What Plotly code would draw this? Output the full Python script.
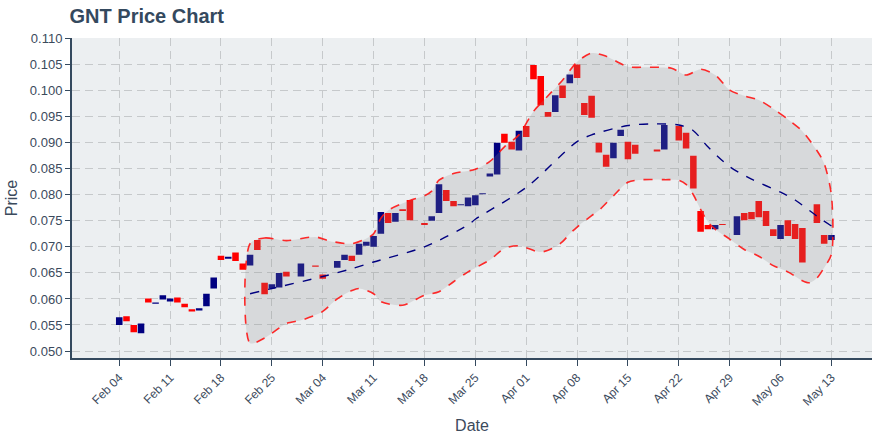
import plotly.graph_objects as go

candle_dates = [
    '2019-02-04','2019-02-05','2019-02-06','2019-02-07','2019-02-08','2019-02-09','2019-02-10','2019-02-11',
    '2019-02-12','2019-02-13','2019-02-14','2019-02-15','2019-02-16','2019-02-17','2019-02-18','2019-02-19',
    '2019-02-20','2019-02-21','2019-02-22','2019-02-23','2019-02-24','2019-02-25','2019-02-26','2019-02-27',
    '2019-03-01','2019-03-03','2019-03-04','2019-03-06','2019-03-07','2019-03-08','2019-03-09','2019-03-10',
    '2019-03-11','2019-03-12','2019-03-13','2019-03-14','2019-03-15','2019-03-16','2019-03-18','2019-03-19',
    '2019-03-20','2019-03-21','2019-03-22','2019-03-23','2019-03-24','2019-03-25','2019-03-26','2019-03-27',
    '2019-03-28','2019-03-29','2019-03-30','2019-03-31',
    '2019-04-01','2019-04-02','2019-04-03','2019-04-04','2019-04-05','2019-04-06','2019-04-07','2019-04-08',
    '2019-04-09','2019-04-10','2019-04-11','2019-04-12','2019-04-13','2019-04-14','2019-04-15','2019-04-16',
    '2019-04-19','2019-04-20','2019-04-22','2019-04-23','2019-04-24','2019-04-25','2019-04-26','2019-04-27',
    '2019-04-28','2019-04-30',
    '2019-05-01','2019-05-02','2019-05-03','2019-05-04','2019-05-05','2019-05-06','2019-05-07','2019-05-08',
    '2019-05-09','2019-05-11','2019-05-12','2019-05-13']

opens = [
    0.0550,0.0567,0.0550,0.0534,0.0601,0.0591,0.0599,0.0595,0.0603,0.0591,0.0580,0.0578,0.0586,0.0620,0.0683,0.0677,
    0.0689,0.0668,0.0664,0.0713,0.0631,0.0620,0.0622,0.0652,
    0.0643,0.0664,0.0647,0.0660,0.0675,0.0683,0.0685,0.0702,0.0700,0.0725,0.0765,0.0748,0.0772,0.0790,0.0746,0.0750,
    0.0765,0.0809,0.0788,0.0780,0.0778,0.0780,0.0801,0.0835,0.0839,0.0917,0.0902,0.0885,
    0.0932,0.1049,0.1028,0.0959,0.0959,0.1010,0.1014,0.1050,0.0976,0.0990,0.0900,0.0877,0.0870,0.0913,0.0902,0.0896,
    0.0887,0.0887,0.0932,0.0919,0.0875,0.0769,0.0742,0.0734,0.0744,0.0723,
    0.0765,0.0767,0.0788,0.0769,0.0734,0.0715,0.0751,0.0744,0.0736,0.0782,0.0723,0.0713]

closes = [
    0.0565,0.0557,0.0536,0.0553,0.0593,0.0593,0.0607,0.0601,0.0593,0.0584,0.0576,0.0582,0.0610,0.0641,0.0675,0.0681,
    0.0673,0.0656,0.0685,0.0694,0.0609,0.0628,0.0650,0.0643,
    0.0668,0.0662,0.0639,0.0673,0.0685,0.0673,0.0706,0.0710,0.0721,0.0767,0.0746,0.0765,0.0769,0.0751,0.0742,0.0759,
    0.0820,0.0788,0.0778,0.0782,0.0795,0.0799,0.0803,0.0841,0.0900,0.0900,0.0887,0.0923,
    0.0911,0.1022,0.0972,0.0950,0.0991,0.0986,0.1031,0.1024,0.0953,0.0948,0.0881,0.0854,0.0900,0.0925,0.0868,0.0879,
    0.0883,0.0934,0.0904,0.0889,0.0812,0.0729,0.0734,0.0742,0.0742,0.0759,
    0.0751,0.0753,0.0757,0.0740,0.0721,0.0742,0.0721,0.0715,0.0670,0.0746,0.0706,0.0723]

upper_dates = [
    '2019-02-22','2019-02-24','2019-02-27','2019-03-03','2019-03-05','2019-03-08','2019-03-10','2019-03-11',
    '2019-03-12','2019-03-13','2019-03-16','2019-03-18','2019-03-19','2019-03-20','2019-03-22','2019-03-25',
    '2019-03-27','2019-03-29','2019-03-31','2019-04-02','2019-04-04','2019-04-06','2019-04-08','2019-04-10',
    '2019-04-12','2019-04-15','2019-04-18','2019-04-21','2019-04-23','2019-04-25','2019-04-27','2019-04-29',
    '2019-05-01','2019-05-03','2019-05-05','2019-05-07','2019-05-09','2019-05-11','2019-05-12','2019-05-13']
upper_vals = [
    0.0706,0.0717,0.0712,0.0719,0.0711,0.0706,0.0716,0.0725,0.0755,0.0770,0.0789,0.0798,0.0807,0.0828,0.0841,0.0849,
    0.0864,0.0892,0.0915,0.0960,0.0990,0.1020,0.1055,0.1072,0.1066,0.1046,0.1045,0.1043,0.1030,0.1041,0.1030,0.1001,
    0.0990,0.0982,0.0965,0.0945,0.0922,0.0885,0.0860,0.0799]

lower_dates = [
    '2019-02-22','2019-02-24','2019-02-25','2019-02-27','2019-03-01','2019-03-03','2019-03-04','2019-03-06',
    '2019-03-08','2019-03-09','2019-03-11','2019-03-12','2019-03-15','2019-03-18','2019-03-20','2019-03-22',
    '2019-03-24','2019-03-27','2019-03-29','2019-03-31','2019-04-03','2019-04-05','2019-04-06','2019-04-07',
    '2019-04-08','2019-04-10','2019-04-11','2019-04-13','2019-04-15','2019-04-17','2019-04-20','2019-04-22',
    '2019-04-23','2019-04-24','2019-04-25','2019-04-26','2019-04-27','2019-04-29','2019-05-01','2019-05-03',
    '2019-05-05','2019-05-07','2019-05-09','2019-05-10','2019-05-11','2019-05-12','2019-05-13']
lower_vals = [
    0.0515,0.0525,0.0534,0.0553,0.0559,0.0569,0.0576,0.0600,0.0616,0.0620,0.0610,0.0595,0.0588,0.0607,0.0614,0.0633,
    0.0652,0.0675,0.0697,0.0702,0.0690,0.0700,0.0710,0.0725,0.0738,0.0760,0.0770,0.0798,0.0824,0.0829,0.0829,0.0828,
    0.0820,0.0800,0.0772,0.0748,0.0734,0.0715,0.0695,0.0682,0.0664,0.0652,0.0635,0.0631,0.0640,0.0660,0.0686]

mid_dates = [
    '2019-02-22','2019-02-25','2019-03-04','2019-03-08','2019-03-11','2019-03-18','2019-03-24','2019-03-25',
    '2019-04-01','2019-04-08','2019-04-10','2019-04-15','2019-04-18','2019-04-22','2019-04-24','2019-04-26',
    '2019-04-29','2019-05-02','2019-05-06','2019-05-08','2019-05-11','2019-05-13']
mid_vals = [
    0.0610,0.0620,0.0643,0.0658,0.0671,0.0700,0.0742,0.0753,0.0814,0.0902,0.0915,0.0933,0.0936,0.0934,0.0923,0.0892,
    0.0854,0.0830,0.0805,0.0790,0.0759,0.0740]

y_ticks = [0.050, 0.055, 0.060, 0.065, 0.070, 0.075, 0.080, 0.085, 0.090, 0.095, 0.100, 0.105, 0.110]

highs = [max(o, c) for o, c in zip(opens, closes)]
lows = [min(o, c) for o, c in zip(opens, closes)]

TXT = '#3b4a5c'

fig = go.Figure()

# Bollinger band envelope: upper path, lower path reversed, closed back to the start
band_x = upper_dates + lower_dates[::-1] + upper_dates[:1]
band_y = upper_vals + lower_vals[::-1] + upper_vals[:1]
fig.add_trace(go.Scatter(
    x=band_x, y=band_y,
    mode='lines', fill='toself', fillcolor='rgba(140,140,140,0.22)',
    line=dict(color='rgba(255,20,20,0.9)', width=1.6, dash='dash', shape='spline', smoothing=0.8),
    hoverinfo='skip', showlegend=False))

fig.add_trace(go.Scatter(
    x=mid_dates, y=mid_vals, mode='lines',
    line=dict(color='#000080', width=1.4, dash='dash', shape='spline', smoothing=0.8),
    hoverinfo='skip', showlegend=False))

fig.add_trace(go.Candlestick(
    x=candle_dates, open=opens, high=highs, low=lows, close=closes,
    increasing=dict(fillcolor='#000080', line=dict(color='#000080', width=0)),
    decreasing=dict(fillcolor='#ff0000', line=dict(color='#ff0000', width=0)),
    showlegend=False))

fig.update_layout(
    width=880, height=440,
    margin=dict(l=72, r=8, t=38, b=80),
    paper_bgcolor='white', plot_bgcolor='#ECEFF1',
    font=dict(family='Liberation Sans, Arial, sans-serif', color=TXT, size=13),
    title=dict(text='<b>GNT Price Chart</b>', x=0.079, xanchor='left', y=0.963, yanchor='middle',
               font=dict(size=20, color='#34495e')),
    boxgap=0.1, boxgroupgap=0,
    showlegend=False,
)

fig.update_xaxes(
    type='date', range=['2019-01-28 12:00', '2019-05-18 14:00'],
    rangeslider=dict(visible=False),
    tick0='2019-02-04', dtick=7 * 86400000, tickformat='%b %d', tickangle=-45,
    tickfont=dict(size=12, color=TXT),
    ticks='outside', ticklen=6, tickcolor='#34495e',
    showline=True, linecolor='#34495e', linewidth=2,
    showgrid=True, gridcolor='#c6c9cb', griddash='8px,5px', gridwidth=1.3,
    title=dict(text='Date', font=dict(size=16, color=TXT), standoff=12),
)
fig.update_yaxes(
    range=[0.04866, 0.1101],
    tickvals=y_ticks, tickformat='.3f',
    tickfont=dict(size=13, color=TXT),
    ticks='outside', ticklen=5, tickcolor='#34495e',
    showline=True, linecolor='#34495e', linewidth=2,
    showgrid=True, gridcolor='#c6c9cb', griddash='8px,5px', gridwidth=1.3,
    zeroline=False,
    title=dict(text='Price', font=dict(size=16, color=TXT), standoff=8),
)

fig.write_html('out.html')
